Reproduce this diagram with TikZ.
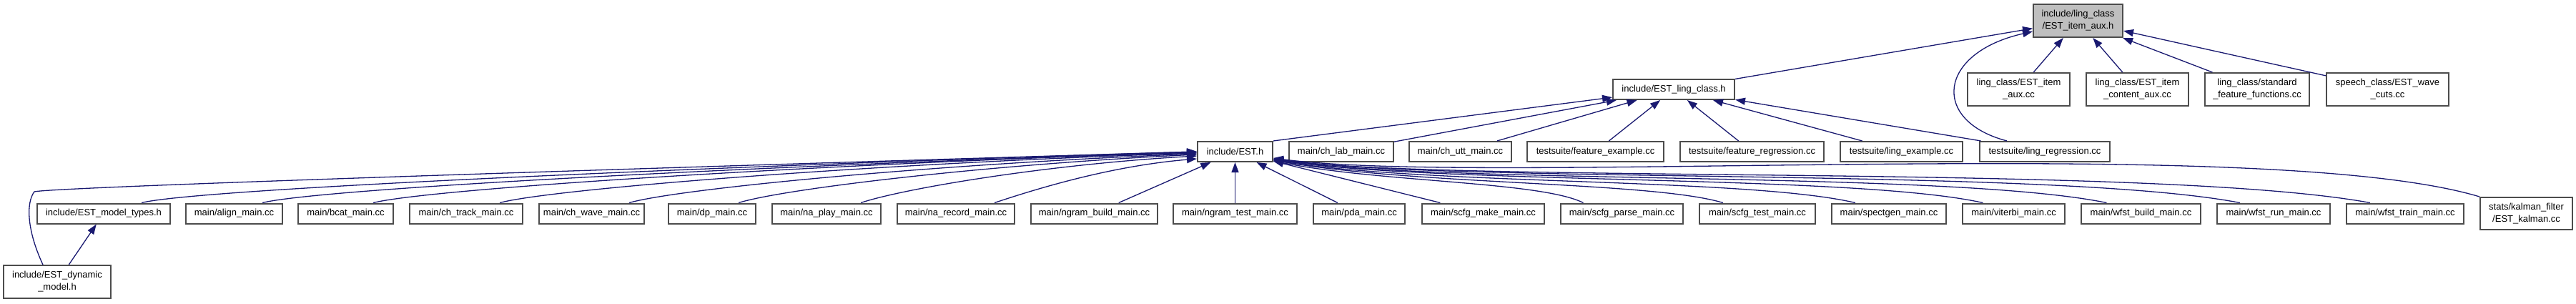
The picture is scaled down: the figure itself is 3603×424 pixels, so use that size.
\documentclass[tikz,border=0pt]{standalone}
\usepackage{fontspec}
\setmainfont{Liberation Sans}
\usepackage{tikz}
\usetikzlibrary{arrows.meta,positioning}
\definecolor{edgeblue}{RGB}{25,25,112}
\definecolor{boxgray}{RGB}{191,191,191}

\begin{document}
\begin{tikzpicture}[x=1pt, y=1pt,
  every node/.style={font=\fontsize{13}{17}\selectfont},
  filebox/.style={draw=black!70, line width=2pt, fill=white, inner sep=0pt, minimum height=28pt, align=center},
  tallbox/.style={filebox, minimum height=46pt},
  dep/.style={draw=edgeblue, line width=1.3pt, -{Triangle[length=14pt,width=10pt]}}]
\useasboundingbox (0,0) rectangle (3603,424);
\node[tallbox, fill=boxgray, minimum width=125pt] (topaux) at (2906.5,395) {include/ling\_class\\/EST\_item\_aux.h};
\node[filebox, minimum width=170pt] (lingclass) at (2341,299) {include/EST\_ling\_class.h};
\node[tallbox, minimum width=143pt] (itemaux) at (2823.5,299) {ling\_class/EST\_item\\\_aux.cc};
\node[tallbox, minimum width=143pt] (itemcontent) at (2989.5,299) {ling\_class/EST\_item\\\_content\_aux.cc};
\node[tallbox, minimum width=146pt] (stdfeat) at (3157,299) {ling\_class/standard\\\_feature\_functions.cc};
\node[tallbox, minimum width=171pt] (wavecuts) at (3339.5,299) {speech\_class/EST\_wave\\\_cuts.cc};
\node[filebox, minimum width=105pt] (esth) at (1727.5,212) {include/EST.h};
\node[filebox, minimum width=146pt] (chlab) at (1876,212) {main/ch\_lab\_main.cc};
\node[filebox, minimum width=143pt] (chutt) at (2042.5,212) {main/ch\_utt\_main.cc};
\node[filebox, minimum width=191pt] (featex) at (2231.5,212) {testsuite/feature\_example.cc};
\node[filebox, minimum width=201pt] (featreg) at (2450.5,212) {testsuite/feature\_regression.cc};
\node[filebox, minimum width=171pt] (lingex) at (2659.5,212) {testsuite/ling\_example.cc};
\node[filebox, minimum width=182pt] (lingreg) at (2860,212) {testsuite/ling\_regression.cc};
\node[filebox, minimum width=186pt] (modeltypes) at (145,125.5) {include/EST\_model\_types.h};
\node[filebox, minimum width=135pt] (alignm) at (327.5,125.5) {main/align\_main.cc};
\node[filebox, minimum width=133pt] (bcat) at (483.5,125.5) {main/bcat\_main.cc};
\node[filebox, minimum width=158pt] (chtrack) at (652,125.5) {main/ch\_track\_main.cc};
\node[filebox, minimum width=147pt] (chwave) at (827.5,125.5) {main/ch\_wave\_main.cc};
\node[filebox, minimum width=122pt] (dpm) at (996,125.5) {main/dp\_main.cc};
\node[filebox, minimum width=152pt] (naplay) at (1156,125.5) {main/na\_play\_main.cc};
\node[filebox, minimum width=164pt] (narec) at (1337,125.5) {main/na\_record\_main.cc};
\node[filebox, minimum width=177pt] (ngbuild) at (1530.5,125.5) {main/ngram\_build\_main.cc};
\node[filebox, minimum width=173pt] (ngtest) at (1727.5,125.5) {main/ngram\_test\_main.cc};
\node[filebox, minimum width=128pt] (pdam) at (1901,125.5) {main/pda\_main.cc};
\node[filebox, minimum width=171pt] (scmake) at (2074.5,125.5) {main/scfg\_make\_main.cc};
\node[filebox, minimum width=171pt] (scparse) at (2268.5,125.5) {main/scfg\_parse\_main.cc};
\node[filebox, minimum width=162pt] (sctest) at (2458,125.5) {main/scfg\_test\_main.cc};
\node[filebox, minimum width=160pt] (spectgen) at (2642,125.5) {main/spectgen\_main.cc};
\node[filebox, minimum width=143pt] (viterbi) at (2816.5,125.5) {main/viterbi\_main.cc};
\node[filebox, minimum width=167pt] (wfbuild) at (2994.5,125.5) {main/wfst\_build\_main.cc};
\node[filebox, minimum width=158pt] (wfrun) at (3180,125.5) {main/wfst\_run\_main.cc};
\node[filebox, minimum width=164pt] (wftrain) at (3364,125.5) {main/wfst\_train\_main.cc};
\node[filebox, minimum width=129pt, minimum height=45pt] (kalman) at (3533.5,125.5) {stats/kalman\_filter\\/EST\_kalman.cc};
\node[tallbox, minimum width=150pt] (dynmodel) at (80,30) {include/EST\_dynamic\\\_model.h};
\coordinate (dynbend) at (48,156);
\draw[dep] (lingclass) -- (topaux);
\draw[dep] (itemaux) -- (topaux);
\draw[dep] (itemcontent) -- (topaux);
\draw[dep] (stdfeat) -- (topaux);
\draw[dep] (wavecuts) -- (topaux);
\draw[dep] ([xshift=-53pt]lingreg.north) .. controls (2700,255) and (2710,350) .. ([yshift=-15pt]topaux.west);
\draw[dep] (esth.north east) -- (lingclass);
\draw[dep] (chlab) -- (lingclass);
\draw[dep] (chutt) -- (lingclass);
\draw[dep] (featex) -- (lingclass);
\draw[dep] (featreg) -- (lingclass);
\draw[dep] (lingex) -- (lingclass);
\draw[dep] (lingreg) -- (lingclass);
\draw[dep] (dynmodel) -- (modeltypes);
\draw[dep] ([xshift=-20pt]dynmodel.north) .. controls +(-22,47) and +(-12,-16) .. (dynbend) .. controls +(32,7) and +(-675,-20) .. (esth.west);
\draw[dep] ([xshift=53pt]modeltypes.north) .. controls +(80,20) and +(-660,-20) .. (esth.west);
\draw[dep] ([xshift=39.5pt]alignm.north) .. controls +(80,20) and +(-600,-18) .. ([yshift=-1pt]esth.west);
\draw[dep] ([xshift=38.5pt]bcat.north) .. controls +(80,20) and +(-520,-16) .. ([yshift=-1pt]esth.west);
\draw[dep] ([xshift=47pt]chtrack.north) .. controls +(75,20) and +(-440,-14) .. ([yshift=-2pt]esth.west);
\draw[dep] ([xshift=52.5pt]chwave.north) .. controls +(70,20) and +(-360,-14) .. ([yshift=-3pt]esth.west);
\draw[dep] ([xshift=37pt]dpm.north) .. controls +(65,20) and +(-290,-14) .. ([yshift=-4pt]esth.west);
\draw[dep] ([xshift=48pt]naplay.north) .. controls +(60,20) and +(-210,-12) .. ([yshift=-6pt]esth.west);
\draw[dep] ([xshift=54pt]narec.north) .. controls +(60,20) and +(-120,-10) .. ([yshift=-10pt]esth.west);
\draw[dep] (ngbuild) -- (esth);
\draw[dep] (ngtest) -- (esth);
\draw[dep] (pdam) -- (esth);
\draw[dep] (scmake) -- (esth);
\draw[dep] ([xshift=-54pt]scparse.north) .. controls +(-60,30) and +(150,-30) .. ([yshift=-13pt]esth.east);
\draw[dep] ([xshift=-48pt]sctest.north) .. controls +(-100,30) and +(200,-35) .. ([yshift=-12pt]esth.east);
\draw[dep] ([xshift=-47pt]spectgen.north) .. controls +(-150,35) and +(220,-35) .. ([yshift=-12pt]esth.east);
\draw[dep] ([xshift=-43pt]viterbi.north) .. controls +(-180,40) and +(230,-35) .. ([yshift=-11pt]esth.east);
\draw[dep] ([xshift=-48pt]wfbuild.north) .. controls +(-220,45) and +(240,-35) .. ([yshift=-11pt]esth.east);
\draw[dep] ([xshift=-47pt]wfrun.north) .. controls +(-260,50) and +(240,-35) .. ([yshift=-10pt]esth.east);
\draw[dep] ([xshift=-49pt]wftrain.north) .. controls +(-300,55) and +(250,-35) .. ([yshift=-10pt]esth.east);
\draw[dep] (kalman.north west) .. controls +(-300,90) and +(300,-40) .. ([yshift=-9pt]esth.east);
\end{tikzpicture}
\end{document}
